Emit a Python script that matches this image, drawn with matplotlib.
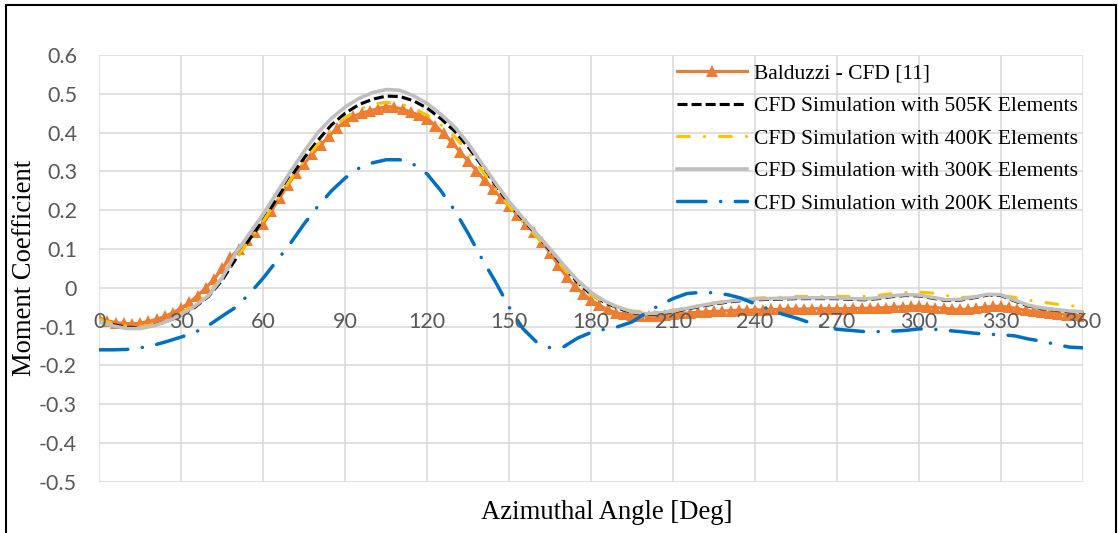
import numpy as np
import matplotlib
matplotlib.use("Agg")
import matplotlib.pyplot as plt
from matplotlib.patches import Rectangle

# ---------------- data ----------------
angles_5 = list(range(0, 361, 5))
angles_3 = list(range(0, 361, 3))

balduzzi = [
    -0.078, -0.085, -0.090, -0.092, -0.093, -0.091, -0.087, -0.081, -0.074, -0.064,
    -0.052, -0.038, -0.020, 0.000, 0.022, 0.050, 0.078, 0.100, 0.122, 0.143,
    0.165, 0.198, 0.232, 0.265, 0.295, 0.320, 0.345, 0.368, 0.390, 0.412,
    0.430, 0.442, 0.450, 0.456, 0.462, 0.467, 0.466, 0.460, 0.453, 0.445,
    0.436, 0.418, 0.398, 0.375, 0.350, 0.327, 0.302, 0.277, 0.255, 0.232,
    0.210, 0.188, 0.165, 0.143, 0.118, 0.090, 0.058, 0.028, 0.005, -0.015,
    -0.032, -0.045, -0.056, -0.064, -0.068, -0.071, -0.073, -0.073, -0.072, -0.070,
    -0.068, -0.066, -0.065, -0.063, -0.062, -0.061, -0.060, -0.059, -0.058, -0.058,
    -0.057, -0.057, -0.056, -0.056, -0.055, -0.055, -0.055, -0.054, -0.054, -0.054,
    -0.054, -0.054, -0.053, -0.053, -0.053, -0.052, -0.051, -0.050, -0.049, -0.048,
    -0.048, -0.049, -0.051, -0.053, -0.055, -0.056, -0.055, -0.053, -0.050, -0.048,
    -0.048, -0.050, -0.054, -0.058, -0.061, -0.063, -0.065, -0.067, -0.069, -0.071,
    -0.073,
]

cfd_505k = [
    -0.085, -0.095, -0.102, -0.103, -0.097, -0.086, -0.071, -0.050, -0.022, 0.020,
    0.075, 0.125, 0.175, 0.230, 0.285, 0.335, 0.380, 0.420, 0.450, 0.472,
    0.486, 0.494, 0.493, 0.482, 0.463, 0.436, 0.404, 0.363, 0.315, 0.265,
    0.217, 0.176, 0.137, 0.096, 0.054, 0.014, -0.017, -0.038, -0.053, -0.064,
    -0.069, -0.067, -0.062, -0.055, -0.048, -0.042, -0.037, -0.033, -0.031, -0.030,
    -0.029, -0.028, -0.028, -0.028, -0.028, -0.030, -0.031, -0.028, -0.023, -0.020,
    -0.021, -0.027, -0.033, -0.032, -0.026, -0.019, -0.020, -0.034, -0.047, -0.054,
    -0.058, -0.062, -0.064,
]

cfd_400k = [
    -0.082, -0.092, -0.099, -0.100, -0.095, -0.083, -0.066, -0.043, -0.012, 0.025,
    0.075, 0.123, 0.172, 0.225, 0.280, 0.327, 0.370, 0.408, 0.438, 0.460,
    0.473, 0.478, 0.474, 0.462, 0.445, 0.420, 0.390, 0.350, 0.303, 0.255,
    0.210, 0.170, 0.132, 0.091, 0.050, 0.012, -0.018, -0.038, -0.052, -0.060,
    -0.063, -0.062, -0.058, -0.052, -0.045, -0.039, -0.034, -0.030, -0.027, -0.025,
    -0.024, -0.023, -0.022, -0.022, -0.022, -0.023, -0.022, -0.020, -0.015, -0.012,
    -0.011, -0.014, -0.020, -0.025, -0.024, -0.020, -0.020, -0.025, -0.032, -0.037,
    -0.042, -0.046, -0.050,
]

cfd_300k = [
    -0.088, -0.098, -0.105, -0.105, -0.098, -0.086, -0.070, -0.047, -0.020, 0.026,
    0.090, 0.140, 0.190, 0.245, 0.300, 0.352, 0.400, 0.437, 0.466, 0.488,
    0.503, 0.511, 0.509, 0.495, 0.475, 0.447, 0.415, 0.372, 0.320, 0.270,
    0.222, 0.180, 0.140, 0.100, 0.058, 0.019, -0.012, -0.035, -0.050, -0.062,
    -0.067, -0.065, -0.060, -0.053, -0.046, -0.040, -0.035, -0.031, -0.029, -0.028,
    -0.027, -0.026, -0.026, -0.026, -0.026, -0.028, -0.029, -0.026, -0.021, -0.018,
    -0.019, -0.025, -0.031, -0.030, -0.024, -0.017, -0.018, -0.032, -0.045, -0.052,
    -0.056, -0.060, -0.062,
]

cfd_200k = [
    -0.160, -0.160, -0.159, -0.155, -0.148, -0.138, -0.127, -0.115, -0.097, -0.073,
    -0.050, -0.015, 0.025, 0.070, 0.115, 0.165, 0.210, 0.250, 0.283, 0.308,
    0.322, 0.330, 0.330, 0.318, 0.293, 0.250, 0.200, 0.140, 0.075, 0.015,
    -0.050, -0.105, -0.140, -0.155, -0.152, -0.130, -0.115, -0.107, -0.100, -0.088,
    -0.065, -0.045, -0.028, -0.015, -0.012, -0.013, -0.018, -0.027, -0.042, -0.055,
    -0.068, -0.078, -0.090, -0.100, -0.107, -0.110, -0.113, -0.113, -0.112, -0.110,
    -0.106, -0.107, -0.110, -0.113, -0.117, -0.120, -0.121, -0.124, -0.132, -0.138,
    -0.146, -0.153, -0.155,
]

series_labels = [
    "Balduzzi - CFD [11]",
    "CFD Simulation with 505K Elements",
    "CFD Simulation with 400K Elements",
    "CFD Simulation with 300K Elements",
    "CFD Simulation with 200K Elements",
]
x_ticks = list(range(0, 361, 30))
y_ticks = [round(v, 1) for v in np.arange(-0.5, 0.61, 0.1)]
y_tick_labels = ["-0.5", "-0.4", "-0.3", "-0.2", "-0.1", "0",
                 "0.1", "0.2", "0.3", "0.4", "0.5", "0.6"]
x_label = "Azimuthal Angle [Deg]"
y_label = "Moment Coefficient"

# ---------------- figure ----------------
W, H = 1118, 533
fig = plt.figure(figsize=(W / 100, H / 100), dpi=100)
fig.patch.set_facecolor("white")

left, right, top, bottom = 99.3, 1083, 55, 481.7
ax = fig.add_axes([left / W, 1 - bottom / H, (right - left) / W, (bottom - top) / H])
ax.set_xlim(0, 360)
ax.set_ylim(-0.5, 0.6)
for s in ax.spines.values():
    s.set_visible(False)
ax.set_xticks(x_ticks)
ax.set_yticks(y_ticks)
ax.grid(True, color="#D9D9D9", linewidth=1.1)
ax.set_axisbelow(True)
ax.tick_params(length=0, labelbottom=False)
ax.set_yticklabels(y_tick_labels, fontfamily="Lato", fontsize=15.5, color="#595959")
ax.tick_params(axis="y", pad=16)

tick_font = dict(fontfamily="Lato", fontsize=15.5, color="#595959")
for xv in x_ticks:
    ax.annotate(str(xv), (xv, 0), xytext=(0, -28.8), textcoords="offset points",
                ha="center", va="baseline", annotation_clip=False, zorder=5, **tick_font)

ax.plot(angles_3, balduzzi, color="#ED7D31", lw=2.25, marker="^", markersize=8.5,
        markeredgewidth=0, label=series_labels[0], zorder=3)
ax.plot(angles_5, cfd_505k, color="black", lw=2.25, linestyle=(0, (3.2, 1.3)),
        dash_capstyle="butt", label=series_labels[1], zorder=3)
ax.plot(angles_5, cfd_400k, color="#FFC000", lw=2.25, linestyle=(0, (3.8, 4.8, 0.05, 4.8)),
        dash_capstyle="round", label=series_labels[2], zorder=3)
ax.plot(angles_5, cfd_300k, color="#BFBFBF", lw=2.6, label=series_labels[3], zorder=3)
ax.plot(angles_5, cfd_200k, color="#0070C0", lw=2.5, linestyle=(0, (8.2, 4.2, 0.05, 4.2)),
        dash_capstyle="round", label=series_labels[4], zorder=3)

leg = ax.legend(loc="upper left", bbox_to_anchor=(676.7 / W, 1 - 63.5 / H),
                bbox_transform=fig.transFigure, frameon=False, borderpad=0,
                borderaxespad=0, handlelength=3.26, handletextpad=0.33,
                labelspacing=0.58, numpoints=1,
                prop=dict(family="Liberation Serif", size=15.5))

fig.text(606.5 / W, 1 - 519.3 / H, x_label, ha="center", va="baseline",
         fontfamily="Liberation Serif", fontsize=19.2, color="black")
fig.text(25 / W, 1 - 268 / H, y_label, ha="center", va="center", rotation=90,
         fontfamily="Liberation Serif", fontsize=19.2, color="black")

# outer frame (left, top, right visible)
fig.add_artist(Rectangle((5.5 / W, -0.05), (1116 - 5.5) / W, 1.05 - 5.5 / H,
                         transform=fig.transFigure, fill=False, edgecolor="black",
                         linewidth=1.5, clip_on=False))

fig.savefig("out.png", dpi=100)
